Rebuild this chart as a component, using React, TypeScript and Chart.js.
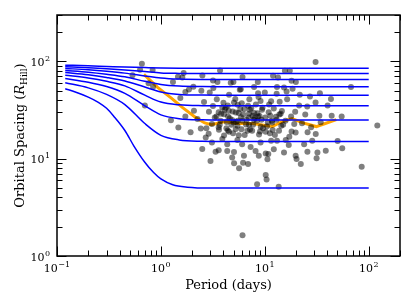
import { useEffect, useRef } from 'react';
import { Chart, registerables } from 'chart.js';

Chart.register(...registerables);

// ---- Data ----
const curvePeriods = [0.12, 0.2, 0.3, 0.45, 0.7, 1.0, 1.5, 2.5, 4, 100];
const curve85 = [91.6, 90.0, 88.8, 87.6, 86.5, 85.7, 85.2, 85.05, 85, 85];
const curve75 = [88.2, 86.0, 84.2, 81.8, 78.6, 76.1, 75.3, 75.05, 75, 75];
const curve65 = [84.7, 82.0, 79.2, 75.8, 71.0, 67.6, 65.8, 65.1, 65, 65];
const curve55 = [80.8, 77.5, 73.8, 69.5, 62.5, 58.0, 55.8, 55.1, 55, 55];
const curve45 = [77.0, 73.0, 68.5, 63.0, 54.5, 48.6, 45.8, 45.1, 45, 45];
const curve35 = [72.2, 67.6, 62.5, 56.0, 45.0, 38.2, 35.8, 35.1, 35, 35];
const curve25 = [66.8, 61.2, 55.2, 47.0, 35.0, 28.2, 25.8, 25.1, 25, 25];
const curve15 = [60.3, 53.5, 45.8, 36.0, 23.0, 17.4, 15.6, 15.1, 15, 15];
const bottomCurvePeriods = [0.12, 0.15, 0.2, 0.25, 0.3, 0.35, 0.45, 0.55, 0.7, 0.85, 1.0, 1.3, 1.8, 3, 100];
const curve5 = [52.3, 48.5, 43, 38, 33, 27.5, 19.5, 13.5, 9.2, 7.2, 6.2, 5.4, 5.1, 5.0, 5.0];

const samplePeriods = [
  0.656, 0.63, 0.832, 0.533, 0.761, 0.841, 0.701, 1.655, 1.459, 1.608, 2.507, 3.707, 1.306, 3.172, 3.499, 3.199, 2.052, 1.862, 1.719, 1.538, 1.719, 1.249, 1.472,
  30.8, 15.6, 17.4, 6.1, 4.99, 4.7, 12.0, 13.4, 8.56, 18.1, 19.9, 7.88, 5.87, 13.1, 15.3, 18.5,
  2.45, 2.95, 4.53, 5.74, 8.61, 10.0, 13.0, 16.2, 21.7, 27.2, 33.9,
  2.6, 3.45, 3.9, 4.4, 5.05, 6.0, 7.1, 8.2, 9.1, 11.5, 13.9, 16.4, 21.4, 25.6, 30.8, 40.2,
  2.08, 2.9, 3.6, 4.05, 4.5, 5.25, 5.9, 6.35, 7.05, 7.6, 8.5, 9.4, 11.3, 12.2, 13.8, 14.6, 17.9, 19.6, 24.5, 33.5,
  2.25, 3.1, 3.75, 4.3, 4.85, 5.45, 6.05, 7.05, 7.85, 9.15, 10.7, 11.7, 14.4, 15.8, 19.2, 22.8, 27.9, 34.5,
  1.93, 2.42, 2.88, 3.62, 4.05, 4.52, 5.25, 5.62, 6.8, 7.55, 8.8, 10.2, 11.9, 13.7, 17.2, 19.8, 25.8, 30.9,
  2.7, 3.1, 3.9, 4.35, 5.45, 6.05, 7.3, 9.1, 11.5, 13.1, 15.9, 17.0, 23.9, 28.6,
  2.5, 3.36, 3.6, 4.35, 5.05, 6.3, 8.15, 10.2, 12.2, 15.3, 19.8, 25.7, 32.1, 38.6, 3.0, 4.85, 10.6,
  5.06, 6.18, 6.9, 5.65, 8.75, 10.8, 10.2, 10.4, 8.43, 6.1, 20.2, 22.2, 31.5, 85.6, 13.6,
  67.5, 43.3, 44.0, 54.9, 50.2, 55.6, 121,
  4.11, 4.43, 4.77, 5.49, 4.27, 3.68, 4.95, 5.96, 6.66, 7.71, 8.61, 9.29, 9.63, 11.2, 7.17, 5.49, 3.17, 13.0, 15.0, 2.74, 3.42, 18.1,
  3.3, 3.8, 4.2, 4.6, 4.9, 5.3, 5.8, 6.2, 6.6, 7.0, 7.4, 7.9, 8.4, 8.9, 9.5, 10.1, 10.9, 11.8, 12.8, 14.2,
  3.6, 4.4, 5.0, 5.6, 6.4, 7.2, 8.0, 9.0, 10.5, 12.5, 4.0, 5.2, 6.9, 8.7, 11.0,
];
const sampleSpacing = [
  94.6, 82.0, 81.5, 72.1, 59.8, 54.8, 35.2, 75.9, 69.5, 68.4, 71.8, 80.7, 61.4, 63.7, 61.4, 53.2, 54.8, 51.4, 48.4, 42.0, 27.1, 24.9, 20.9,
  98.6, 80.2, 80.2, 69.0, 61.4, 60.3, 71.3, 68.4, 61.4, 63.2, 61.4, 54.5, 51.9, 54.5, 53.9, 52.4,
  49.9, 47.9, 45.4, 51.0, 47.2, 47.9, 46.5, 49.1, 45.4, 43.6, 47.2,
  38.2, 40.9, 33.6, 35.2, 37.8, 37.1, 40.8, 36.0, 39.3, 39.0, 38.4, 40.9, 35.2, 34.4, 37.8, 35.3,
  31.2, 30.3, 30.0, 28.7, 31.2, 29.9, 26.7, 32.4, 28.9, 27.6, 29.3, 31.8, 27.7, 32.9, 28.4, 31.0, 27.1, 30.4, 28.4, 27.6,
  25.6, 22.8, 24.6, 23.9, 25.0, 21.8, 24.6, 22.4, 25.1, 21.3, 23.7, 24.6, 21.8, 24.5, 22.7, 23.1, 21.0, 23.7,
  18.7, 20.5, 18.0, 19.8, 17.3, 18.9, 20.2, 17.4, 19.4, 19.4, 17.7, 18.9, 19.7, 19.4, 16.8, 18.6, 18.7, 17.9,
  16.5, 14.7, 15.9, 14.1, 15.6, 14.1, 13.2, 14.7, 15.3, 15.3, 15.6, 13.8, 14.1, 15.3,
  12.6, 11.8, 12.2, 12.0, 11.7, 10.7, 12.0, 11.3, 12.5, 11.6, 10.7, 11.8, 11.6, 12.1, 9.5, 10.3, 9.9,
  8.97, 9.09, 8.82, 7.96, 10.7, 11.2, 6.79, 6.13, 5.45, 1.63, 9.93, 8.82, 10.1, 8.27, 5.15,
  54.5, 41.2, 27.6, 27.1, 15.2, 12.8, 21.9,
  31.8, 27.1, 22.3, 24.5, 20.6, 22.3, 18.3, 20.1, 25.1, 22.3, 27.1, 25.1, 20.6, 18.3, 31.8, 35.8, 34.9, 25.1, 22.3, 20.6, 27.1, 19.0,
  26.5, 29.0, 33.5, 26.0, 30.5, 24.0, 32.5, 28.5, 22.5, 26.5, 33.0, 29.5, 24.5, 27.5, 33.5, 26.5, 30.0, 23.5, 27.0, 29.0,
  21.0, 19.5, 23.5, 29.5, 17.5, 20.0, 26.0, 19.0, 21.5, 17.5, 37.5, 41.0, 35.0, 43.0, 36.0,
];

const medianPeriods = [0.686, 0.93, 1.26, 1.63, 2.19, 2.64, 3.06, 4.14, 5.4, 7.7, 10.1, 11.8, 14.7, 18.3, 22.9, 31.3, 38.2, 48.8];
const medianSpacing = [73.5, 54.0, 42.0, 33.3, 26.2, 23.3, 22.4, 24.1, 23.0, 23.0, 21.9, 21.4, 24.1, 25.9, 23.5, 21.4, 23.0, 25.2];

const xMajorTicks = [0.1, 1, 10, 100];
const xTickExponents = ['\u22121', '0', '1', '2'];
const yMajorTicks = [1, 10, 100];
const yTickExponents = ['0', '1', '2'];
const xTitle = 'Period (days)';
const yTitleParts = ['Orbital Spacing (', 'R', 'Hill', ')'];

const X_MIN = 0.1, X_MAX = 200, Y_MIN = 1, Y_MAX = 300;
const FONT = '"DejaVu Serif", serif';

function toXY(xs: number[], ys: number[]) {
  return xs.map((x, i) => ({ x, y: ys[i] }));
}

function logTicks(min: number, max: number) {
  const out: { v: number; major: boolean }[] = [];
  for (let e = Math.floor(Math.log10(min)); e <= Math.ceil(Math.log10(max)); e++) {
    for (let m = 1; m < 10; m++) {
      const v = m * Math.pow(10, e);
      if (v >= min * 0.999 && v <= max * 1.001) out.push({ v, major: m === 1 });
    }
  }
  return out;
}

function drawPow(ctx: CanvasRenderingContext2D, exp: string, x: number, baseline: number, align: 'center' | 'right') {
  ctx.font = `11px ${FONT}`;
  const wb = ctx.measureText('10').width;
  ctx.font = `8px ${FONT}`;
  const we = ctx.measureText(exp).width;
  const total = wb + we + 0.5;
  const start = align === 'center' ? x - total / 2 : x - total;
  ctx.textAlign = 'left';
  ctx.textBaseline = 'alphabetic';
  ctx.font = `11px ${FONT}`;
  ctx.fillText('10', start, baseline);
  ctx.font = `8px ${FONT}`;
  ctx.fillText(exp, start + wb + 0.5, baseline - 5);
}

const axesPlugin = {
  id: 'mplAxes',
  afterDraw(chart: any) {
    const { ctx, chartArea } = chart;
    const { left, right, top, bottom } = chartArea;
    const xs = chart.scales.x;
    const ys = chart.scales.y;
    ctx.save();
    ctx.strokeStyle = '#000';
    ctx.fillStyle = '#000';
    ctx.lineWidth = 1;
    ctx.beginPath();
    for (const t of logTicks(X_MIN, X_MAX)) {
      const px = Math.round(xs.getPixelForValue(t.v)) + 0.5;
      const len = t.major ? 9.5 : 5.5;
      ctx.moveTo(px, bottom);
      ctx.lineTo(px, bottom - len);
      ctx.moveTo(px, top);
      ctx.lineTo(px, top + len);
    }
    for (const t of logTicks(Y_MIN, Y_MAX)) {
      const py = Math.round(ys.getPixelForValue(t.v)) + 0.5;
      const len = t.major ? 9.5 : 5.5;
      ctx.moveTo(left, py);
      ctx.lineTo(left + len, py);
      ctx.moveTo(right, py);
      ctx.lineTo(right - len, py);
    }
    ctx.stroke();
    ctx.lineWidth = 1.5;
    ctx.strokeRect(left, top, right - left, bottom - top);

    xMajorTicks.forEach((v, i) => {
      drawPow(ctx, xTickExponents[i], xs.getPixelForValue(v), bottom + 16, 'center');
    });
    yMajorTicks.forEach((v, i) => {
      drawPow(ctx, yTickExponents[i], left - 7, ys.getPixelForValue(v) + 4.5, 'right');
    });

    ctx.font = `13px ${FONT}`;
    ctx.textAlign = 'center';
    ctx.textBaseline = 'alphabetic';
    ctx.fillText(xTitle, (left + right) / 2, bottom + 32.5);

    ctx.translate(23.5, (top + bottom) / 2);
    ctx.rotate(-Math.PI / 2);
    const fonts = [`13px ${FONT}`, `italic 13px ${FONT}`, `9px ${FONT}`, `13px ${FONT}`];
    const dys = [0, 0, 3, 0];
    const widths = yTitleParts.map((t, i) => {
      ctx.font = fonts[i];
      return ctx.measureText(t).width;
    });
    const total = widths.reduce((a, b) => a + b, 0);
    let cx = -total / 2;
    ctx.textAlign = 'left';
    yTitleParts.forEach((t, i) => {
      ctx.font = fonts[i];
      ctx.fillText(t, cx, dys[i]);
      cx += widths[i];
    });
    ctx.restore();
  },
};

export default function App() {
  const canvasRef = useRef<HTMLCanvasElement | null>(null);

  useEffect(() => {
    if (!canvasRef.current) return;
    const blueCurves = [curve85, curve75, curve65, curve55, curve45, curve35, curve25, curve15];
    const lineDs = (data: { x: number; y: number }[]) => ({
      type: 'line' as const,
      data,
      borderColor: '#0000ff',
      borderWidth: 1.5,
      pointRadius: 0,
      fill: false,
      cubicInterpolationMode: 'monotone' as const,
    });
    const datasets: any[] = [
      ...blueCurves.map((c) => lineDs(toXY(curvePeriods, c))),
      lineDs(toXY(bottomCurvePeriods, curve5)),
      {
        type: 'scatter',
        data: toXY(samplePeriods, sampleSpacing),
        backgroundColor: 'rgba(0,0,0,0.5)',
        borderWidth: 0,
        pointRadius: 3,
      },
      {
        type: 'line',
        data: toXY(medianPeriods, medianSpacing),
        borderColor: '#ffa500',
        borderWidth: 3,
        pointRadius: 0,
        fill: false,
        tension: 0,
      },
    ];
    const chart = new Chart(canvasRef.current, {
      type: 'scatter',
      data: { datasets },
      options: {
        animation: false,
        responsive: false,
        devicePixelRatio: 1,
        layout: { autoPadding: false, padding: { left: 57, right: 15, top: 15, bottom: 51 } },
        plugins: { legend: { display: false }, tooltip: { enabled: false } },
        events: [],
        scales: {
          x: { type: 'logarithmic', min: X_MIN, max: X_MAX, display: false },
          y: { type: 'logarithmic', min: Y_MIN, max: Y_MAX, display: false },
        },
      } as any,
      plugins: [axesPlugin],
    });
    return () => chart.destroy();
  }, []);

  return (
    <div style={{ position: 'absolute', left: 0, top: 0, width: 415, height: 307, background: '#fff' }}>
      <canvas ref={canvasRef} width={415} height={307} style={{ display: 'block' }} />
    </div>
  );
}
